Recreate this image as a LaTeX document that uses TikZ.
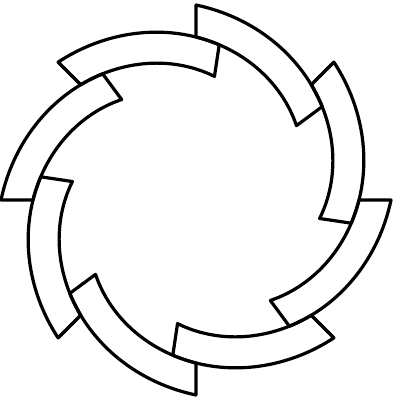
\documentclass[tikz,border=0pt]{standalone}
\begin{document}
\begin{tikzpicture}[x=1pt,y=1pt,
  segline/.style={line width=3.2pt,line join=round,line cap=round,black}]
\useasboundingbox (-196,-197) rectangle (202,200);
\foreach \k in {0,...,7}{
  \pgfmathsetmacro\s{135-45*\k}
  \draw[segline]
    plot[domain=0:53.5,samples=40] ({\s-\x}:{195-0.711*\x})
    -- plot[domain=53.5:0,samples=40] ({\s-\x}:{163-0.711*\x})
    -- cycle;
}
\end{tikzpicture}
\end{document}
